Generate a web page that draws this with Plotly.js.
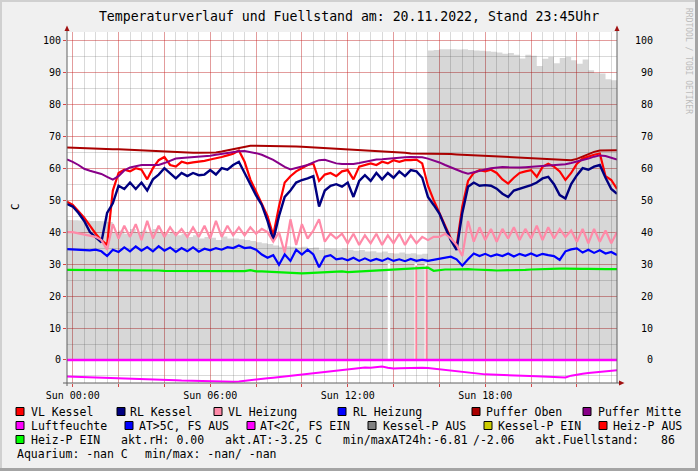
<!DOCTYPE html>
<html><head><meta charset="utf-8">
<script src="https://cdn.plot.ly/plotly-3.0.1.min.js"></script>
<style>html,body{margin:0;padding:0;background:#f0f0f0;}#chart{width:698px;height:471px;}</style>
</head><body><div id="chart"></div>
<script>
// time axis in hours (Sun 20.11.2022), 15-minute samples
const hours = [-0.25,
 0,0.25,0.5,0.75, 1,1.25,1.5,1.75, 2,2.25,2.5,2.75, 3,3.25,3.5,3.75,
 4,4.25,4.5,4.75, 5,5.25,5.5,5.75, 6,6.25,6.5,6.75, 7,7.25,7.5,7.75,
 8,8.25,8.5,8.75, 9,9.25,9.5,9.75, 10,10.25,10.5,10.75, 11,11.25,11.5,11.75,
 12,12.25,12.5,12.75, 13,13.25,13.5,13.75, 14,14.25,14.5,14.75, 15,15.25,15.5,15.75,
 16,16.25,16.5,16.75, 17,17.25,17.5,17.75, 18,18.25,18.5,18.75, 19,19.25,19.5,19.75,
 20,20.25,20.5,20.75, 21,21.25,21.5,21.75, 22,22.25,22.5,22.75, 23,23.25,23.5,23.75];

const fuellArea = [43.8,
 43.7,43.6,43.6,43.5, 43.5,43.4,43.2,40, 40.5,39.5,41,40, 40.5,39.8,41,40,
 39.5,40,39,39.5, 38.5,39,38,38.5, 38.2,37.5,38.6,38, 38,37.8,37.5,37.2,
 36.8,36.5,36.3,35.8, 35.4,35.6,35.4,35.2, 35.4,35,35.2,34.5, 34.9,34.8,34.6,34.9,
 34.5,34.2,34.4,33.9, 34,33.6,33.9,33.5, 33.3,33.6,33.2,33.4, 33,33.2,96.8,97,
 97.2,97.2,97.2,97.1, 97.2,97,96.8,96.7, 96.6,96.4,96.2,95.8, 96,95.5,94.3,95.5,
 95.2,92,94.2,94.8, 92.8,94.5,94.8,93.8, 92.7,94,90.6,89.8, 89.6,87.8,87.5,87.0];

// short dropouts of the fill (white) and Heiz-P AUS marks (pink)
const gapHours = [13.8, 14.97, 15.41];
const gapTop = [30.2, 30.2, 30.2];
const heizAusHours = [14.99, 15.44];
const heizAusTop = [29.5, 29.5];

const vlKessel = [49.5,
 48.5,46.5,44.5,42, 39.5,37.5,36,53, 58.5,59.5,59,60, 59.5,56.5,60,62.5,
 63.5,61,60.5,62, 61.5,61.8,62,62.3, 62.7,63,63.5,64, 64.5,65.5,62,56.5,
 52.5,49,45,39, 48,55.5,57.5,59, 60,61,61.4,56, 58,58.5,57.5,59,
 59.4,56.5,60.5,61, 61.5,61,62,61.5, 62.5,62,62.5,62.5, 62.7,61.5,54.5,50,
 46,41.5,38,35.5, 48,56,58.5,59.4, 59,59.5,58.5,56.5, 55.2,57,58.5,59,
 59.4,57.3,60.4,61.4, 60.5,59,56.3,58.5, 61.4,63,63.7,64.2, 64.6,57.5,56.3,53.5];

const rlKessel = [48.8,
 48,46,43.5,40, 38.5,36.8,46,49, 54.5,53.5,55.5,53.5, 55.5,53,56.5,58,
 60,58.5,56.8,58.5, 57.5,58.5,57.8,58, 59.4,58,60,59.5, 61,62,58.5,55,
 51.5,48.5,43.5,37.5, 45,51,53,55.5, 56.3,56.8,57.5,48, 53,54.5,55,54.2,
 55.5,51,56,57.8, 56,58.5,56.5,58.5, 57,59,57.5,59.4, 59,57,51,48.5,
 45.8,41.5,37.5,34.4, 46,54.2,55.5,54.5, 54.7,54.5,53.6,52, 51,53,53.5,54.2,
 54.7,55.5,56.8,57.3, 55,51.6,50.5,55, 57.8,60,59.5,60.5, 61,57,53.5,52];

const vlHeizung = [40,
 40,39.6,39.2,39, 38.5,37.5,34.5,42.5, 38,42,38.5,42.5, 37.5,43.5,38,42,
 38.5,41.5,39,41, 38.5,41.5,38.5,42, 38,43.5,38.5,42, 39,41.5,39,41.5,
 39.5,41,40,37, 40,33.5,44,36, 42.5,38,40.5,44, 37,39.5,38,39.5,
 36.5,39.5,36,39, 36.5,39.5,36,39, 36.5,39.5,36,39, 36.5,38.5,37.5,38.5,
 38.5,39.5,38,36, 32.5,43.5,37,41.5, 37.5,41,37,41, 38,41.5,37.5,41,
 38,42,37.5,41.5, 38,41,38.5,40.5, 37,41,36.5,41, 37,40.5,36.5,40];

const rlHeizung = [34.7,
 34.6,34.5,34.4,34.3, 34.5,34,32.5,34.5, 33.8,35.2,34,35.5, 34.2,35.3,34,35.6,
 34.2,35.2,33.8,35, 34,35.2,33.9,34.8, 34.3,35,34.5,35.3, 35,35.8,35,35.2,
 34.5,33,32,32.8, 29.8,33,31,34.5, 33,34.5,33,29, 32.3,32.8,31.5,31.8,
 31.2,32,31,31.8, 31,31.6,31,31.8, 31,31.5,30.9,31.6, 31,31.4,31,31.3,
 31.5,31.8,32.3,31.5, 29.5,31.5,33.3,32.5, 33.2,32.4,33,32.5, 33.3,32.4,33.2,32.6,
 33.3,32.5,33.2,32.8, 32.5,31.3,34,34.6, 34.9,33.6,34.5,33.5, 34.3,33.3,33.8,32.8];

const pufferOben = [66.5,
 66.4,66.3,66.3,66.2, 66.2,66.1,66,65.9, 65.9,65.8,65.7,65.6, 65.5,65.4,65.3,65.2,
 65.1,65,64.9,64.8, 64.8,64.8,64.8,64.8, 64.8,64.9,65.2,65.6, 66,66.4,66.8,67,
 67,67,67,67, 67,66.9,66.9,66.8, 66.7,66.6,66.5,66.5, 66.4,66.3,66.2,66.1,
 66,65.9,65.8,65.7, 65.6,65.5,65.4,65.3, 65.2,65,64.8,64.6, 64.6,64.6,64.6,64.5,
 64.5,64.4,64.4,64.3, 64.2,64.2,64.1,64, 63.9,63.8,63.7,63.6, 63.6,63.5,63.4,63.3,
 63.2,63.1,63,62.9, 62.8,62.7,62.6,62.5, 62.9,63.6,64.4,65.1, 65.5,65.6,65.6,65.6];

const pufferMitte = [62.7,
 62,61,59.8,59.2, 58.7,58.2,57.3,56.4, 57.5,59.3,60.2,60.6, 61,61,61,61,
 61.6,62.3,63,63.2, 63.3,63.4,63.5,63.7, 63.9,64.2,64.5,64.7, 65,65.3,65.4,65.1,
 64.7,64.2,63.5,62.6, 61.5,60.4,59.6,60, 60.4,61,61.8,62.5, 62.6,62,61.5,61.3,
 61.2,61.3,61.6,62, 62.4,62.7,62.8,63, 63.2,63.3,63.4,63.5, 63.5,63.4,63,62.5,
 61.8,61,60.2,59.4, 58.8,58.3,58.8,59.2, 59.6,60,60.3,60.4, 60.3,60.2,60.2,60.3,
 60.4,60.5,60.7,60.8, 61,61.1,61.2,61.6, 62,62.4,63,63.6, 64,63.8,63.2,62.7];

const heizPEin = [28.2,
 28.2,28.1,28.1,28.1, 28.1,28.1,28.0,28.0, 28.0,28.0,28.0,28.0, 28.0,28.0,28.0,28.0,
 27.9,27.9,27.9,27.9, 27.9,27.9,27.9,27.9, 27.9,27.9,27.8,27.8, 27.8,27.8,27.8,28.1,
 27.7,27.7,27.6,27.5, 27.4,27.3,27.2,27.2, 27.1,27.2,27.3,27.4, 27.5,27.6,27.6,27.7,
 27.5,27.6,27.8,27.9, 28.0,28.1,28.2,28.3, 28.4,28.4,28.5,28.6, 28.7,28.8,28.9,27.9,
 28.2,28.3,28.3,28.4, 28.4,28.4,28.3,28.3, 28.2,28.1,28.0,28.0, 28.0,28.0,28.1,28.2,
 28.3,28.4,28.5,28.6, 28.6,28.6,28.6,28.5, 28.5,28.5,28.5,28.4, 28.4,28.4,28.4,28.4];

const aussenTemp = [-5.2,
 -5.25,-5.3,-5.35,-5.4, -5.5,-5.6,-5.7,-5.75, -5.8,-5.85,-5.9,-5.95, -6.0,-6.05,-6.1,-6.15,
 -6.25,-6.3,-6.35,-6.45, -6.5,-6.55,-6.6,-6.65, -6.7,-6.75,-6.8,-6.81, -6.8,-6.7,-6.55,-6.35,
 -6.15,-5.95,-5.75,-5.55, -5.35,-5.15,-5.0,-4.85, -4.7,-4.5,-4.3,-4.1, -3.9,-3.65,-3.4,-3.2,
 -3.0,-2.8,-2.55,-2.35, -2.4,-2.2,-2.06,-2.4, -2.7,-2.6,-2.5,-2.6, -2.5,-2.4,-2.5,-2.7,
 -2.9,-3.1,-3.35,-3.55, -3.75,-4.0,-4.25,-4.4, -4.5,-4.55,-4.6,-4.6, -4.7,-4.75,-4.8,-4.9,
 -5.0,-5.1,-5.2,-5.3, -5.4,-5.5,-5.45,-4.9, -4.5,-4.3,-4.1,-3.95, -3.8,-3.6,-3.4,-3.25];

const rhHours = [-0.25, 23.75];
const luftfeuchte = [0, 0];

const xTickVals = [0,2,4,6,8,10,12,14,16,18,20,22];
const xTickText = ['Sun 00:00','','','Sun 06:00','','','Sun 12:00','','','Sun 18:00','',''];
const yTickVals = [0,10,20,30,40,50,60,70,80,90,100];

const legendRows = [
  [['VL Kessel','#ff0000',16,30],['RL Kessel','#000080',117,129],['VL Heizung','#ff8aa8',214,227],
   ['RL Heizung','#0000ff',338,352],['Puffer Oben','#aa0000',472,485],['Puffer Mitte','#880088',583,597]],
  [['Luftfeuchte','#ff00ff',16,30],['AT>5C, FS AUS','#0000ff',125,138],['AT<2C, FS EIN','#ff00ff',247,259],
   ['Kessel-P AUS','#808080',368,382],['Kessel-P EIN','#cccc00',484,497],['Heiz-P AUS','#ff0000',599,612]],
  [['Heiz-P EIN','#00ff00',16,30]]
];
const infoTexts = [
  ['akt.rH: 0.00',120,3],['akt.AT:-3.25 C',224,3],['min/maxAT24h:-6.81',342,3],['/-2.06',472,3],
  ['akt.Fuellstand:',534,3],['86',660,3],
  ['Aquarium: -nan C',16,4],['min/max: -nan/ -nan',144,4]
];

// ---- geometry helpers (pixel -> paper) ----
const L = 67, R = 617, T = 32, B = 383;
const px = x => (x - L) / (R - L);
const py = y => (B - y) / (B - T);
const rowY = [411.5, 425.5, 439.5, 453.5];
const mono = 'DejaVu Sans Mono';

// vertical segments from 0 up to the given tops
const segX = (xs) => xs.flatMap(x => [x, x, null]);
const segY = (ys) => ys.flatMap(y => [0, y, null]);

const traces = [
  {x: hours, y: fuellArea, type: 'scatter', mode: 'lines', fill: 'tozeroy',
   fillcolor: 'rgba(0,0,0,0.155)', line: {width: 0, shape: 'hv'}, hoverinfo: 'skip'},
  {x: segX(gapHours), y: segY(gapTop), mode: 'lines', line: {color: '#ffffff', width: 2.5}},
  {x: segX(heizAusHours), y: segY(heizAusTop), mode: 'lines', line: {color: '#ff7f99', width: 1.8}},
  {x: hours, y: heizPEin, mode: 'lines', line: {color: '#00ee00', width: 2.2}},
  {x: rhHours, y: luftfeuchte, mode: 'lines', line: {color: '#ff00ff', width: 2.5}},
  {x: hours, y: aussenTemp, mode: 'lines', line: {color: '#ff00ff', width: 2}},
  {x: hours, y: vlKessel, mode: 'lines', line: {color: '#ff0000', width: 2.2}},
  {x: hours, y: rlKessel, mode: 'lines', line: {color: '#000080', width: 2.4}},
  {x: hours, y: vlHeizung, mode: 'lines', line: {color: '#ff8aa8', width: 2.2}},
  {x: hours, y: rlHeizung, mode: 'lines', line: {color: '#0000ff', width: 2.2}},
  {x: hours, y: pufferOben, mode: 'lines', line: {color: '#aa0000', width: 2}},
  {x: hours, y: pufferMitte, mode: 'lines', line: {color: '#880088', width: 2}}
];

const shapes = [];
const annotations = [];

// outer frame
const frame = (x0,y0,x1,y1,c) => shapes.push({type:'rect', xref:'paper', yref:'paper', x0:px(x0), x1:px(x1), y0:py(y0), y1:py(y1), fillcolor:c, line:{width:0}, layer:'below'});
frame(0,0,698,2,'#d0d0d0'); frame(0,0,2,471,'#d0d0d0');
frame(0,468,698,471,'#a4a4a4'); frame(695,0,698,471,'#a4a4a4');

// axis lines
const axLine = (x0,y0,x1,y1) => shapes.push({type:'line', xref:'paper', yref:'paper', x0:px(x0), x1:px(x1), y0:py(y0), y1:py(y1), line:{color:'#606060', width:1}});
axLine(67,28,67,386); axLine(617,28,617,383); axLine(63,383,620,383);
// arrows
const tri = (pts) => shapes.push({type:'path', xref:'paper', yref:'paper',
  path: 'M' + pts.map(p => px(p[0]) + ',' + py(p[1])).join(' L') + ' Z', fillcolor:'#a01010', line:{width:0}});
tri([[64.5,31],[69.5,31],[67,25.5]]); tri([[614.5,31],[619.5,31],[617,25.5]]); tri([[619,380.5],[619,385.5],[624.5,383]]);

// right-hand tick labels
yTickVals.forEach(v => annotations.push({xref:'paper', yref:'y', x:px(655), y:v, xanchor:'right', yanchor:'middle',
  text:String(v), showarrow:false, font:{family:mono, size:10, color:'#000'}}));

// legend
legendRows.forEach((row, r) => row.forEach(it => {
  const [label, color, sx, tx] = it;
  shapes.push({type:'rect', xref:'paper', yref:'paper', x0:px(sx), x1:px(sx+8), y0:py(rowY[r]-4), y1:py(rowY[r]+4),
    fillcolor:color, line:{color:'#000', width:1}});
  annotations.push({xref:'paper', yref:'paper', x:px(tx-1), y:py(rowY[r]), xanchor:'left', yanchor:'middle',
    text:label, showarrow:false, font:{family:mono, size:11.5, color:'#000'}});
}));
infoTexts.forEach(it => annotations.push({xref:'paper', yref:'paper', x:px(it[1]-1), y:py(rowY[it[2]-1]), xanchor:'left', yanchor:'middle',
  text:it[0], showarrow:false, font:{family:mono, size:11.5, color:'#000'}}));

// y-axis unit & watermark
annotations.push({xref:'paper', yref:'paper', x:px(15), y:py(207), xanchor:'center', yanchor:'middle', text:'C', textangle:-90, showarrow:false,
  font:{family:mono, size:11, color:'#000'}});
annotations.push({xref:'paper', yref:'paper', x:px(688), y:py(61), xanchor:'center', yanchor:'middle', text:'RRDTOOL / TOBI OETIKER', textangle:90, showarrow:false,
  font:{family:mono, size:8, color:'#bcbcbc'}});

const layout = {
  width: 698, height: 471,
  margin: {l: L, r: 698 - R, t: T, b: 471 - B, pad: 0},
  paper_bgcolor: '#f0f0f0', plot_bgcolor: '#ffffff',
  showlegend: false,
  title: {text: 'Temperaturverlauf und Fuellstand am: 20.11.2022, Stand 23:45Uhr',
    font: {family: mono, size: 13.2, color: '#000'}, xref: 'container', x: 0.5, yref: 'container', y: 1 - 16.5/471, yanchor: 'middle'},
  xaxis: {range: [-0.25, 23.75], tickmode: 'array', tickvals: xTickVals, ticktext: xTickText,
    showgrid: true, gridcolor: 'rgba(255,0,0,0.28)', gridwidth: 1, zeroline: false, showline: false,
    ticks: 'outside', ticklen: 3, tickcolor: 'rgba(200,0,0,0.7)',
    tickfont: {family: mono, size: 10, color: '#000'},
    minor: {dtick: 0.5, tick0: 0, showgrid: true, gridcolor: 'rgba(120,120,120,0.28)', gridwidth: 1}},
  yaxis: {range: [-7.2, 102.6], tickmode: 'array', tickvals: yTickVals,
    showgrid: true, gridcolor: 'rgba(255,0,0,0.28)', gridwidth: 1, zeroline: false, showline: false,
    ticks: 'outside', ticklen: 3, tickcolor: 'rgba(200,0,0,0.7)',
    tickfont: {family: mono, size: 10, color: '#000'},
    minor: {dtick: 5, tick0: 0, showgrid: true, gridcolor: 'rgba(120,120,120,0.28)', gridwidth: 1}},
  shapes: shapes, annotations: annotations
};

Plotly.newPlot('chart', traces, layout, {staticPlot: true, displayModeBar: false});
</script>
</body></html>
